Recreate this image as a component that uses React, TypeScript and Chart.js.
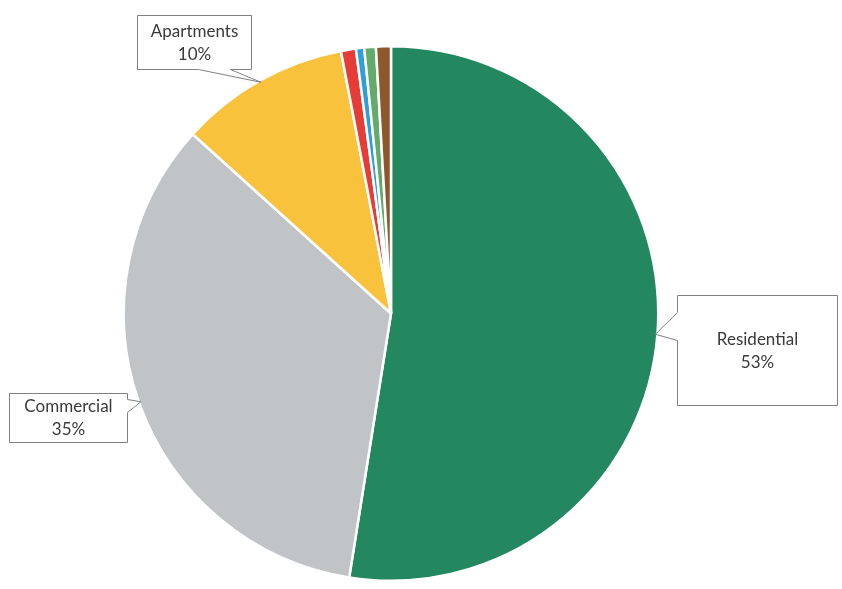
import React, { useEffect, useRef } from "react";
import { Chart, registerables } from "chart.js";

Chart.register(...registerables);

const categories = ["Residential", "Commercial", "Apartments", "Other 1", "Other 2", "Other 3", "Other 4"];
const shares = [52.5, 34.2, 10.3, 0.9, 0.5, 0.7, 0.9];
const sliceColors = ["#23875f", "#c1c4c6", "#f8c23c", "#e63b36", "#2ba0d9", "#64aa6b", "#8d582c"];
const calloutLines = [
  ["Residential", "53%"],
  ["Commercial", "35%"],
  ["Apartments", "10%"],
];

type Box = { x: number; y: number; w: number; h: number; side: "left" | "right" | "bottom"; o0: number; o1: number };
const boxes: Box[] = [
  { x: 677.5, y: 295.5, w: 160, h: 110, side: "left", o0: 17, o1: 45 },
  { x: 9.5, y: 393.5, w: 118, h: 49, side: "right", o0: 6, o1: 19 },
  { x: 137.5, y: 15.5, w: 114, h: 54, side: "bottom", o0: 61, o1: 93 },
];

const calloutPlugin = {
  id: "callouts",
  afterDatasetsDraw(chart: any) {
    const ctx = chart.ctx as CanvasRenderingContext2D;
    const meta = chart.getDatasetMeta(0);
    boxes.forEach((b, i) => {
      const arc = meta.data[i] as any;
      const p = arc.getProps(["x", "y", "startAngle", "endAngle", "outerRadius"], true);
      const mid = (p.startAngle + p.endAngle) / 2;
      const tx = p.x + Math.cos(mid) * (p.outerRadius - 2);
      const ty = p.y + Math.sin(mid) * (p.outerRadius - 2);
      ctx.save();
      ctx.beginPath();
      const { x, y, w, h } = b;
      if (b.side === "left") {
        ctx.moveTo(x, y);
        ctx.lineTo(x + w, y);
        ctx.lineTo(x + w, y + h);
        ctx.lineTo(x, y + h);
        ctx.lineTo(x, y + b.o1);
        ctx.lineTo(tx, ty);
        ctx.lineTo(x, y + b.o0);
        ctx.closePath();
      } else if (b.side === "right") {
        ctx.moveTo(x, y);
        ctx.lineTo(x + w, y);
        ctx.lineTo(x + w, y + b.o0);
        ctx.lineTo(tx, ty);
        ctx.lineTo(x + w, y + b.o1);
        ctx.lineTo(x + w, y + h);
        ctx.lineTo(x, y + h);
        ctx.closePath();
      } else {
        ctx.moveTo(x, y);
        ctx.lineTo(x + w, y);
        ctx.lineTo(x + w, y + h);
        ctx.lineTo(x + b.o1, y + h);
        ctx.lineTo(tx, ty);
        ctx.lineTo(x + b.o0, y + h);
        ctx.lineTo(x, y + h);
        ctx.closePath();
      }
      ctx.fillStyle = "#ffffff";
      ctx.fill();
      ctx.strokeStyle = "#808080";
      ctx.lineWidth = 1;
      ctx.stroke();
      ctx.fillStyle = "#3a3a3a";
      ctx.font = "17px Lato, 'Open Sans', sans-serif";
      ctx.textAlign = "center";
      ctx.textBaseline = "middle";
      const cx = x + w / 2;
      const cy = y + h / 2;
      const lines = calloutLines[i];
      ctx.fillText(lines[0], cx, cy - 11);
      ctx.fillText(lines[1], cx, cy + 12);
      ctx.restore();
    });
  },
};

export default function App() {
  const ref = useRef<HTMLCanvasElement>(null);
  useEffect(() => {
    if (!ref.current) return;
    const chart = new Chart(ref.current, {
      type: "pie",
      data: {
        labels: categories,
        datasets: [
          {
            data: shares,
            backgroundColor: sliceColors,
            borderColor: "#ffffff",
            borderWidth: 2.5,
          },
        ],
      },
      options: {
        animation: false,
        responsive: false,
        maintainAspectRatio: false,
        layout: { padding: { left: 122, right: 182, top: 45, bottom: 7 } },
        plugins: {
          legend: { display: false },
          tooltip: { enabled: false },
        },
      },
      plugins: [calloutPlugin],
    });
    return () => chart.destroy();
  }, []);
  return (
    <div style={{ position: "fixed", left: 0, top: 0, width: 842, height: 589, background: "#ffffff" }}>
      <canvas ref={ref} width={842} height={589} style={{ width: 842, height: 589 }} />
    </div>
  );
}
